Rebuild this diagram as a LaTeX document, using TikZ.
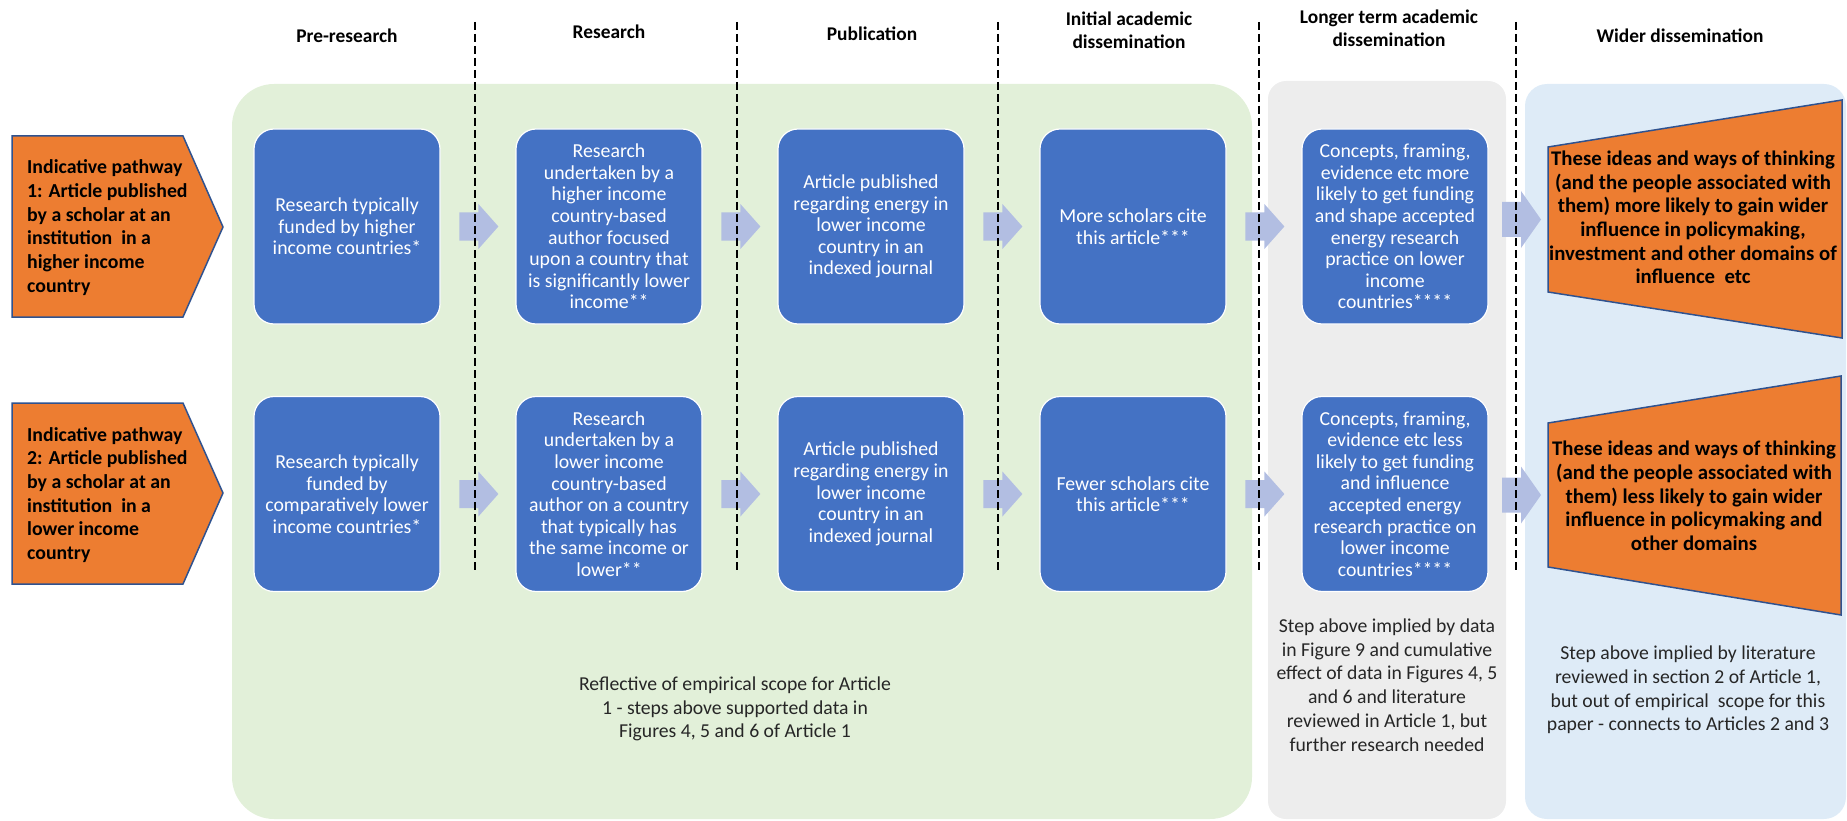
\documentclass[tikz,border=0pt]{standalone}
\usepackage{fontspec}
\setmainfont{Carlito}
\usetikzlibrary{calc}
\definecolor{boxblue}{HTML}{4472C4}
\definecolor{orangefill}{HTML}{ED7D31}
\definecolor{edgeblue}{HTML}{2F528F}
\definecolor{greenpanel}{HTML}{E2F0D9}
\definecolor{graypanel}{HTML}{EDEDED}
\definecolor{bluepanel}{HTML}{DEEBF7}
\definecolor{arrowblue}{RGB}{178,190,226}
\definecolor{notetext}{HTML}{262626}
\newcommand{\smallblockarr}[1]{\fill[arrowblue] (#1) -- ++(-20,-22.5) -- ++(0,8.5) -- ++(-19,0) -- ++(0,28) -- ++(19,0) -- ++(0,8.5) -- cycle;}
\newcommand{\bigblockarr}[1]{\fill[arrowblue] (#1) -- ++(-20,-28.5) -- ++(0,11) -- ++(-19,0) -- ++(0,35) -- ++(19,0) -- ++(0,11) -- cycle;}
\begin{document}
\begin{tikzpicture}[x=1pt,y=-1pt,
  stepbox/.style={draw=white, line width=1.2pt, fill=boxblue, rounded corners=20pt,
    minimum width=186pt, minimum height=195pt, text=white, align=center,
    font=\fontsize{19.8}{21.6}\selectfont, inner sep=0pt},
  header/.style={font=\bfseries\fontsize{19.4}{23.4}\selectfont, align=center, text=black},
  pathtext/.style={font=\bfseries\fontsize{19.8}{23.7}\selectfont, align=left, text=black, anchor=west, inner sep=0pt},
  ideatext/.style={font=\bfseries\fontsize{20.8}{23.7}\selectfont, align=center, text=black, inner sep=0pt},
  notestyle/.style={font=\fontsize{19.7}{23.7}\selectfont, align=center, text=notetext, inner sep=0pt},
  orangeshape/.style={fill=orangefill, draw=edgeblue, line width=1.5pt},
  dashline/.style={black, line width=1.6pt, dash pattern=on 8pt off 4pt}
]
\useasboundingbox (0,0) rectangle (1847,821);

% panels
\fill[greenpanel, rounded corners=42pt] (232,84) rectangle (1252,819);
\fill[graypanel, rounded corners=18pt] (1268,81) rectangle (1506,819);
\fill[bluepanel, rounded corners=22pt] (1525,84) rectangle (1846,819);

% headers
\node[header] (h1) at (347,36) {Pre-research};
\node[header] (h2) at (609,32) {Research};
\node[header] (h3) at (872,34) {Publication};
\node[header] (h4) at (1129,30) {Initial academic\\dissemination};
\node[header] (h5) at (1389,28) {Longer term academic\\dissemination};
\node[header] (h6) at (1680,36) {Wider dissemination};

% pathway pentagons
\draw[orangeshape] (12,136) -- (183,136) -- (223,227) -- (183,317) -- (12,317) -- cycle;
\node[pathtext] (p1) at (27,227.5) {Indicative pathway\\1: Article published\\by a scholar at an\\institution \ in a\\higher income\\country};
\draw[orangeshape] (12,403) -- (183,403) -- (223,493) -- (183,584) -- (12,584) -- cycle;
\node[pathtext] (p2) at (27,495) {Indicative pathway\\2: Article published\\by a scholar at an\\institution \ in a\\lower income\\country};

% row 1 boxes
\node[stepbox] (b11) at (347,226.5) {Research typically\\funded by higher\\income countries*};
\node[stepbox] (b12) at (609,226.5) {Research\\undertaken by a\\higher income\\country-based\\author focused\\upon a country that\\is significantly lower\\income**};
\node[stepbox] (b13) at (871,226.5) {Article published\\regarding energy in\\lower income\\country in an\\indexed journal};
\node[stepbox] (b14) at (1133,226.5) {More scholars cite\\this article***};
\node[stepbox] (b15) at (1395,226.5) {Concepts, framing,\\evidence etc more\\likely to get funding\\and shape accepted\\energy research\\practice on lower\\income\\countries****};

% row 2 boxes
\node[stepbox] (b21) at (347,494) {Research typically\\funded by\\comparatively lower\\income countries*};
\node[stepbox] (b22) at (609,494) {Research\\undertaken by a\\lower income\\country-based\\author on a country\\that typically has\\the same income or\\lower**};
\node[stepbox] (b23) at (871,494) {Article published\\regarding energy in\\lower income\\country in an\\indexed journal};
\node[stepbox] (b24) at (1133,494) {Fewer scholars cite\\this article***};
\node[stepbox] (b25) at (1395,494) {Concepts, framing,\\evidence etc less\\likely to get funding\\and influence\\accepted energy\\research practice on\\lower income\\countries****};

% trapezoids
\coordinate (t1l) at (1548,219.5);
\draw[orangeshape] (1548,147) -- (1842,100) -- (1842,338) -- (1548,292) -- cycle;
\node[ideatext] (i1) at (1693,217.5) {These ideas and ways of thinking\\(and the people associated with\\them) more likely to gain wider\\influence in policymaking,\\investment and other domains of\\influence \ etc};
\coordinate (t2l) at (1548,495);
\draw[orangeshape] (1548,423) -- (1841,376) -- (1841,615) -- (1548,567) -- cycle;
\node[ideatext] (i2) at (1694,496) {These ideas and ways of thinking\\(and the people associated with\\them) less likely to gain wider\\influence in policymaking and\\other domains};

% block arrows between steps
\smallblockarr{[xshift=-17pt]b12.west}
\smallblockarr{[xshift=-17pt]b13.west}
\smallblockarr{[xshift=-17pt]b14.west}
\smallblockarr{[xshift=-17pt]b15.west}
\bigblockarr{[xshift=-7pt]t1l}
\smallblockarr{[xshift=-17pt]b22.west}
\smallblockarr{[xshift=-17pt]b23.west}
\smallblockarr{[xshift=-17pt]b24.west}
\smallblockarr{[xshift=-17pt]b25.west}
\bigblockarr{[xshift=-7pt]t2l}

% dashed separators
\foreach \xx in {475,737,998,1259,1516} {
  \draw[dashline] (\xx,22) -- (\xx,572);
}

% notes
\node[notestyle] (n1) at (735,709) {Reflective of empirical scope for Article\\1 - steps above supported data in\\Figures 4, 5 and 6 of Article 1};
\node[notestyle] (n2) at (1387,685) {Step above implied by data\\in Figure 9 and cumulative\\effect of data in Figures 4, 5\\and 6 and literature\\reviewed in Article 1, but\\further research needed};
\node[notestyle] (n3) at (1688,690) {Step above implied by literature\\reviewed in section 2 of Article 1,\\but out of empirical \ scope for this\\paper - connects to Articles 2 and 3};
\end{tikzpicture}
\end{document}
